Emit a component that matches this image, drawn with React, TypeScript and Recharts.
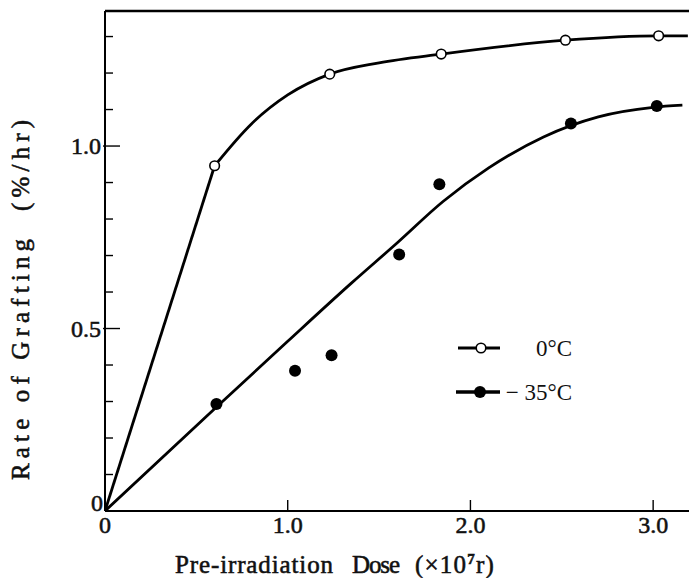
import { ComposedChart, Line, Scatter, XAxis, YAxis, ReferenceLine } from 'recharts';

// Measured points (dose ×10^7 r, rate %/hr)
const DOSE_0C = [0.6, 1.23, 1.84, 2.52, 3.03];
const RATE_0C = [0.946, 1.197, 1.252, 1.29, 1.302];

const DOSE_35C = [0.61, 1.04, 1.24, 1.61, 1.83, 2.55, 3.02];
const RATE_35C = [0.293, 0.384, 0.427, 0.703, 0.895, 1.062, 1.11];

// Hand-drawn fit curves
const FIT0_START_X = [0, 0.6];
const FIT0_START_Y = [0, 0.946];
const FIT0_X = [0.6, 0.8, 1.0, 1.23, 1.5, 1.84, 2.52, 3.03, 3.19];
const FIT0_Y = [0.946, 1.06, 1.14, 1.197, 1.228, 1.252, 1.29, 1.302, 1.302];

const FIT35_X = [0, 0.6, 1.0, 1.35, 1.6, 1.85, 2.1, 2.4, 2.7, 3.0, 3.16];
const FIT35_Y = [0, 0.28, 0.465, 0.625, 0.735, 0.848, 0.94, 1.025, 1.08, 1.106, 1.112];

const X_TICKS = [0, 1, 2, 3];
const Y_TICKS = [0, 0.1, 0.2, 0.3, 0.4, 0.5, 0.6, 0.7, 0.8, 0.9, 1.0, 1.1, 1.2, 1.3];
const Y_LABELS = [0, 0.5, 1.0];
const X_MAX = 3.24;
const Y_MAX = 1.37;

const zip = (xs: number[], ys: number[]) => xs.map((x, i) => ({ x, y: ys[i] }));

const FONT = '"Liberation Serif", "DejaVu Serif", serif';
// printed look: regular face thickened with a thin stroke
const INK = { fill: '#111', stroke: '#111', strokeWidth: 0.55 };

const fmt = (v: number) => (Math.abs(v) < 1e-9 ? '0' : v.toFixed(1));

function YTick(props: any) {
  const { x, y, payload } = props;
  const v = payload.value as number;
  const major = Y_LABELS.some((m) => Math.abs(m - v) < 1e-6);
  const zero = Math.abs(v) < 1e-9;
  return (
    <g>
      {!zero && (
        <line x1={major ? x - 2 : x} x2={major ? x + 15 : x + 8} y1={y} y2={y} stroke="#000" strokeWidth={1.4} />
      )}
      {major && (
        <text x={zero ? x - 2 : x - 4} y={zero ? y : y + 8} textAnchor="end" fontFamily={FONT} fontSize={24} {...INK}>
          {fmt(v)}
        </text>
      )}
    </g>
  );
}

function XTick(props: any) {
  const { x, y, payload } = props;
  const v = payload.value as number;
  return (
    <g>
      {v > 0 && <line x1={x} x2={x} y1={y} y2={y - 11} stroke="#000" strokeWidth={1.4} />}
      <text x={x} y={y + 22} textAnchor="middle" fontFamily={FONT} fontSize={24} {...INK}>
        {fmt(v)}
      </text>
    </g>
  );
}

export default function App() {
  return (
    <div style={{ position: 'relative', width: 689, height: 570 }}>
      <ComposedChart width={689} height={570} margin={{ top: 3, right: 0, bottom: 0, left: 0 }}>
        <XAxis
          type="number"
          dataKey="x"
          domain={[0, X_MAX]}
          ticks={X_TICKS}
          allowDataOverflow
          height={67}
          tickSize={0}
          tickMargin={0}
          tickLine={false}
          axisLine={{ stroke: '#000', strokeWidth: 2.2 }}
          tick={<XTick />}
        />
        <YAxis
          type="number"
          dataKey="y"
          domain={[0, Y_MAX]}
          ticks={Y_TICKS}
          allowDataOverflow
          width={97}
          tickSize={0}
          tickMargin={0}
          tickLine={false}
          axisLine={{ stroke: '#000', strokeWidth: 2 }}
          tick={<YTick />}
        />
        <ReferenceLine y={Y_MAX} stroke="#000" strokeWidth={2.4} />
        <Line
          data={zip(FIT0_START_X, FIT0_START_Y)}
          dataKey="y"
          type="linear"
          stroke="#000"
          strokeWidth={2.8}
          dot={false}
          isAnimationActive={false}
        />
        <Line
          data={zip(FIT0_X, FIT0_Y)}
          dataKey="y"
          type="monotone"
          stroke="#000"
          strokeWidth={2.8}
          dot={false}
          isAnimationActive={false}
        />
        <Line
          data={zip(FIT35_X, FIT35_Y)}
          dataKey="y"
          type="monotone"
          stroke="#000"
          strokeWidth={2.8}
          dot={false}
          isAnimationActive={false}
        />
        <Scatter
          data={zip(DOSE_0C, RATE_0C)}
          dataKey="y"
          isAnimationActive={false}
          shape={(p: any) => <circle cx={p.cx} cy={p.cy} r={4.8} fill="#fff" stroke="#000" strokeWidth={1.6} />}
        />
        <Scatter
          data={zip(DOSE_35C, RATE_35C)}
          dataKey="y"
          isAnimationActive={false}
          shape={(p: any) => <circle cx={p.cx} cy={p.cy} r={6} fill="#000" />}
        />
      </ComposedChart>
      <svg width={689} height={570} style={{ position: 'absolute', left: 0, top: 0, pointerEvents: 'none' }}>
        <text
          transform="translate(21,292) rotate(-90)"
          textAnchor="middle"
          fontFamily={FONT}
          fontSize={25}
          {...INK}
          textLength={360}
          lengthAdjust="spacing"
          style={{ whiteSpace: 'pre' }}
        >
          {'Rate of Grafting  (%/hr)'}
        </text>
        <g fontFamily={FONT} fontSize={25} {...INK}>
          <text x={167} y={565} textLength={158} lengthAdjust="spacing">
            Pre-irradiation
          </text>
          <text x={344} y={565} textLength={48} lengthAdjust="spacing">
            Dose
          </text>
          <text x={407} y={565} letterSpacing={1.2}>
            (×10<tspan dy={-9} fontSize={15} fontWeight="bold">7</tspan>
            <tspan dy={9}>r)</tspan>
          </text>
        </g>
        {/* legend */}
        <line x1={450} x2={492} y1={340} y2={340} stroke="#000" strokeWidth={2.8} />
        <circle cx={473} cy={340} r={4.8} fill="#fff" stroke="#000" strokeWidth={1.6} />
        <text x={564} y={348} textAnchor="end" fontFamily={FONT} fontSize={23} fill="#111">
          0°C
        </text>
        <line x1={448} x2={492} y1={384} y2={384} stroke="#000" strokeWidth={3.6} />
        <circle cx={472} cy={384} r={6} fill="#000" />
        <text x={564} y={392} textAnchor="end" fontFamily={FONT} fontSize={23} fill="#111" style={{ whiteSpace: 'pre' }}>
          {'− 35°C'}
        </text>
      </svg>
    </div>
  );
}
